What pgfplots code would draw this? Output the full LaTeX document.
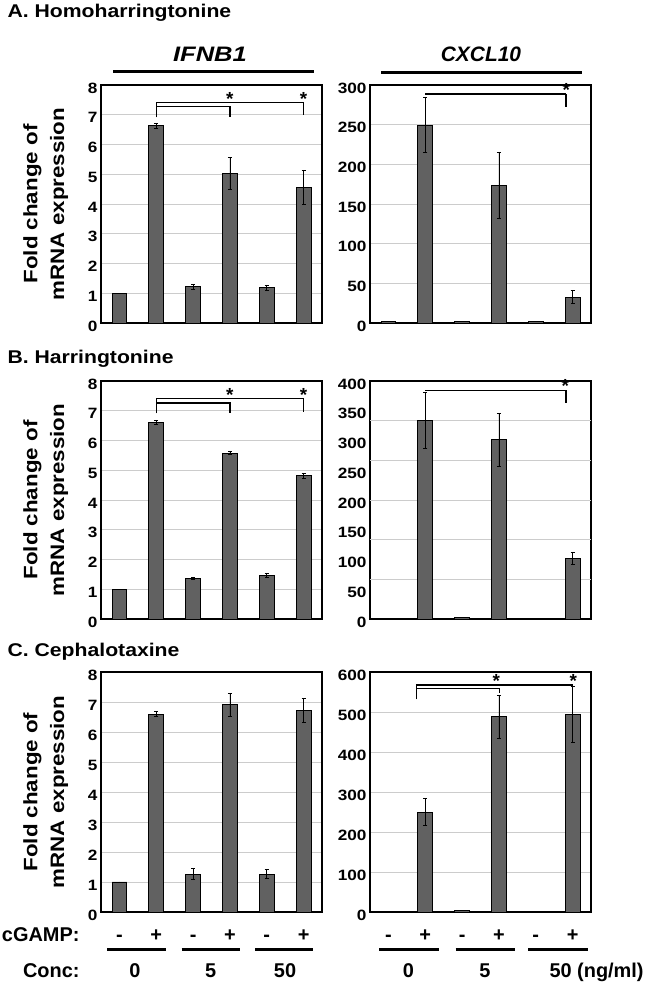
\documentclass[border=0pt]{standalone}
\usepackage{fontspec}
\setmainfont{Liberation Sans}
\newfontfamily\widesans{Liberation Sans}[FakeStretch=1.15]
\usepackage{graphicx}
\usepackage{pgfplots}
\usepackage{pgfplotstable}
\pgfplotsset{compat=1.18}

% fold change, error (SD) for - / + cGAMP at 0, 5, 50 ng/ml
\pgfplotstableread{
x y e
1 1.00 0
2 6.63 0.08
3 1.22 0.08
4 5.03 0.54
5 1.18 0.08
6 4.56 0.56
}\homoifn
\pgfplotstableread{
x y e
1 1.5 0
2 249.5 35
3 1.5 0
4 173.5 42
5 1.5 0
6 32.5 8
}\homocxcl
\pgfplotstableread{
x y e
1 1.00 0
2 6.60 0.07
3 1.37 0.03
4 5.57 0.05
5 1.47 0.06
6 4.81 0.07
}\harrifn
\pgfplotstableread{
x y e
1 1.5 0
2 334 47
3 2.5 0
4 301 45
5 1.5 0
6 102 10
}\harrcxcl
\pgfplotstableread{
x y e
1 1.00 0
2 6.60 0.09
3 1.26 0.19
4 6.91 0.39
5 1.26 0.15
6 6.72 0.41
}\cephifn
\pgfplotstableread{
x y e
1 1.5 0
2 250 34
3 3.0 0
4 488 54
5 1.5 0
6 494 69
}\cephcxcl

\newcommand\tfont{\widesans\fontsize{18.5}{22}\selectfont\bfseries}
\newcommand\gfont{\fontsize{21}{24}\selectfont\bfseries\itshape}
\newcommand\lfont{\fontsize{20}{24}\selectfont\bfseries}

\pgfplotsset{
  panel/.style={
    scale only axis, width=221bp, height=238bp,
    anchor=south west,
    xmin=0.5, xmax=6.5, ymin=0,
    xtick=\empty,
    ymajorgrids, major grid style={gray!40, line width=0.8bp},
    major tick length=0,
    axis line style={black, line width=1.2bp},
    tick label style={font=\widesans\fontsize{15}{17}\selectfont\bfseries},
    yticklabel style={yshift=-3bp},
    /pgf/number format/assume math mode=true,
    clip=false,
  },
  leftpanel/.style={panel, ymax=8, ytick={0,...,8},
    ylabel={Fold change of\\mRNA expression},
    ylabel style={at={(axis description cs:-0.25,0.5)}, anchor=center,
      align=center, font=\widesans\fontsize{19.5}{27}\selectfont\bfseries}},
  bottompanel/.style={height=240bp, xtick={1,...,6},
    xticklabels={-,+,-,+,-,+},
    xticklabel style={anchor=base, yshift=-30bp, font=\lfont}},
  bars/.style={ybar, bar width=0.4, fill=black!62, draw=black,
    line width=0.8bp,
    error bars/y dir=both, error bars/y explicit,
    error bars/error mark=|,
    error bars/error bar style={black, line width=0.7bp},
    error bars/error mark options={black, mark size=2bp, line width=0.9bp}},
}
\tikzset{
  bracket/.style={black, line width=1.3bp},
  star/.style={anchor=base, yshift=-2.5bp, inner sep=0,
    font=\fontsize{19}{22}\selectfont\bfseries},
}

\begin{document}
\begin{tikzpicture}
\path[use as bounding box] (0,0) rectangle (645bp,983bp);

% headings
\node[anchor=base west, font=\tfont] at (4bp,965bp) {A. Homoharringtonine};
\node[anchor=base west, font=\tfont] at (4bp,619bp) {B. Harringtonine};
\node[anchor=base west, font=\tfont] at (4bp,326.3bp) {C. Cephalotaxine};
\node[anchor=base, font=\gfont] at (210bp,921bp) {\scalebox{1.22}[1]{IFNB1}};
\node[anchor=base, font=\gfont] at (481bp,921bp) {CXCL10};
\draw[line width=3bp] (113bp,911.3bp) -- (314bp,911.3bp);
\draw[line width=3bp] (381bp,910.7bp) -- (582bp,910.7bp);

% A. Homoharringtonine
\begin{axis}[leftpanel, at={(101bp,660bp)}]
\addplot[bars] table[x=x, y=y, y error=e] {\homoifn};
\draw[bracket] (axis cs:2,6.91) -- (axis cs:2,7.41) -- (axis cs:6,7.41) -- (axis cs:6,6.99);
\draw[bracket] (axis cs:2,7.27) -- (axis cs:4,7.27) -- (axis cs:4,6.91);
\node[star] at (axis cs:4,7.41) {*};
\node[star] at (axis cs:6,7.41) {*};
\end{axis}
\begin{axis}[panel, at={(370bp,660bp)}, ymax=300, ytick={0,50,...,300}]
\addplot[bars] table[x=x, y=y, y error=e] {\homocxcl};
\draw[bracket] (axis cs:2,288.6) -- (axis cs:5.83,288.6);
\draw[black, line width=2bp] (axis cs:5.83,288.6) -- (axis cs:5.83,271.9);
\node[star] at (axis cs:5.83,288.6) {*};
\end{axis}

% B. Harringtonine
\begin{axis}[leftpanel, at={(101bp,364bp)}]
\addplot[bars] table[x=x, y=y, y error=e] {\harrifn};
\draw[bracket] (axis cs:2,6.91) -- (axis cs:2,7.41) -- (axis cs:6,7.41) -- (axis cs:6,6.96);
\draw[bracket] (axis cs:2,7.26) -- (axis cs:4,7.26) -- (axis cs:4,6.92);
\node[star] at (axis cs:4,7.41) {*};
\node[star] at (axis cs:6,7.41) {*};
\end{axis}
\begin{axis}[panel, at={(370bp,364bp)}, ymax=400, ytick={0,50,...,400},
  ymajorgrids=false,
  extra y ticks={66.667,133.333,200,266.667,333.333},
  extra y tick labels={},
  extra y tick style={ymajorgrids=true}]
\addplot[bars] table[x=x, y=y, y error=e] {\harrcxcl};
\draw[bracket] (axis cs:2,384.4) -- (axis cs:5.83,384.4);
\draw[black, line width=2bp] (axis cs:5.83,384.4) -- (axis cs:5.83,362.5);
\node[star] at (axis cs:5.8,384.4) {*};
\end{axis}

% C. Cephalotaxine
\begin{axis}[leftpanel, bottompanel, at={(101bp,71bp)}]
\addplot[bars] table[x=x, y=y, y error=e] {\cephifn};
\end{axis}
\begin{axis}[panel, bottompanel, at={(370bp,71bp)}, ymax=600, ytick={0,100,...,600}]
\addplot[bars] table[x=x, y=y, y error=e] {\cephcxcl};
\draw[bracket] (axis cs:1.77,531.7) -- (axis cs:1.77,567.5) -- (axis cs:5.99,567.5) -- (axis cs:5.99,561);
\draw[bracket] (axis cs:1.77,558.5) -- (axis cs:4.02,558.5) -- (axis cs:4.02,548.5);
\node[star] at (axis cs:3.93,567.5) {*};
\node[star] at (axis cs:6.02,567.5) {*};
\end{axis}

% treatment key
\node[anchor=base east, font=\lfont] at (83bp,41bp) {cGAMP:};
\node[anchor=base east, font=\lfont] at (83bp,6bp) {Conc:};
\foreach \a/\b in {107.3/165.7,181.7/240,255/313.3,379.3/439,455.7/515,528.3/587.7}
  \draw[line width=3bp] (\a bp,33.7bp) -- (\b bp,33.7bp);
\node[anchor=base, font=\lfont] at (135bp,6bp) {0};
\node[anchor=base, font=\lfont] at (210.7bp,6bp) {5};
\node[anchor=base, font=\lfont] at (285bp,6bp) {50};
\node[anchor=base, font=\lfont] at (408.3bp,6bp) {0};
\node[anchor=base, font=\lfont] at (485bp,6bp) {5};
\node[anchor=base west, font=\lfont] at (546bp,6bp) {50 (ng/ml)};
\end{tikzpicture}
\end{document}
